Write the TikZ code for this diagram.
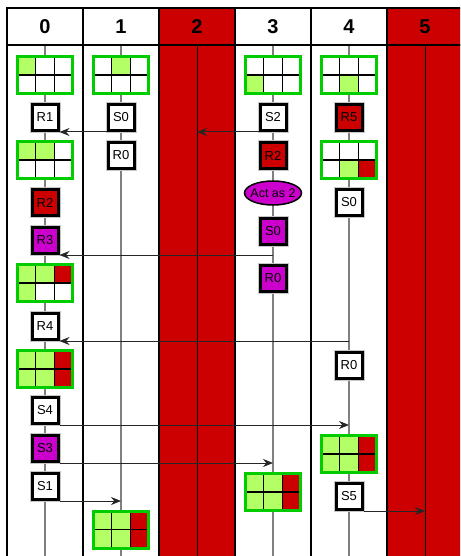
\documentclass[tikz,border=0pt]{standalone}
\usepackage{fontspec}
\setmainfont{Liberation Sans}
\usetikzlibrary{arrows.meta,shapes.geometric}
\definecolor{lg}{HTML}{B3FF66}
\definecolor{rd}{HTML}{CC0000}
\definecolor{mg}{HTML}{CC00CC}
\definecolor{gb}{HTML}{00CC00}
\definecolor{ll}{HTML}{808080}
\tikzset{
  colrect/.style={draw=black, line width=2.5pt},
  hdr/.style={font=\fontsize{20}{20}\selectfont\bfseries, inner sep=0pt},
  msgbox/.style={draw=black, line width=3pt, minimum size=26pt, inner sep=0pt,
    font=\fontsize{13}{13}\selectfont, preaction={draw=black!22, line width=5pt}},
  gridbox/.style={draw=gb, line width=3pt, fill=white, minimum width=55pt,
    minimum height=37pt, inner sep=0pt},
  life/.style={draw=ll, line width=1.1pt},
  redlife/.style={draw=black, line width=1pt},
  msg/.style={draw=black!85, line width=1pt, -{Stealth[length=10pt,width=8pt]}},
}
\newcommand{\cellgrid}[8]{%
  \node[gridbox, path picture={
    \begin{scope}[shift={(path picture bounding box.center)}]
      \fill[#3] (-30,-20) rectangle (-9.17,0);
      \fill[#4] (-9.17,-20) rectangle (9.17,0);
      \fill[#5] (9.17,-20) rectangle (30,0);
      \fill[#6] (-30,0) rectangle (-9.17,20);
      \fill[#7] (-9.17,0) rectangle (9.17,20);
      \fill[#8] (9.17,0) rectangle (30,20);
      \draw[black, line width=1.3pt] (-9.17,-20) -- (-9.17,20) (9.17,-20) -- (9.17,20) (-30,0) -- (30,0);
    \end{scope}}] (#1) at (#2) {};}
\begin{document}
\begin{tikzpicture}[x=1pt, y=-1pt]
\useasboundingbox (0,0) rectangle (460,556);
\clip (0,0) rectangle (460,556);
\fill[white] (0,0) rectangle (460,556);
% columns
\draw[colrect, fill=white] (7,8) rectangle (83,45);
\draw[colrect, fill=white] (83,8) rectangle (159,45);
\draw[colrect, fill=rd] (159,8) rectangle (235,45);
\draw[colrect, fill=white] (235,8) rectangle (311,45);
\draw[colrect, fill=white] (311,8) rectangle (387,45);
\draw[colrect, fill=rd] (387,8) rectangle (463,45);
\draw[colrect, fill=white] (7,45) rectangle (83,570);
\draw[colrect, fill=white] (83,45) rectangle (159,570);
\draw[colrect, fill=rd] (159,45) rectangle (235,570);
\draw[colrect, fill=white] (235,45) rectangle (311,570);
\draw[colrect, fill=white] (311,45) rectangle (387,570);
\draw[colrect, fill=rd] (387,45) rectangle (463,570);
\node[hdr] (h0) at (45,26.5) {0};
\node[hdr] (h1) at (121,26.5) {1};
\node[hdr] (h2) at (197,26.5) {2};
\node[hdr] (h3) at (273,26.5) {3};
\node[hdr] (h4) at (349,26.5) {4};
\node[hdr] (h5) at (425,26.5) {5};
% lifelines
\coordinate (l0) at (45,46); \coordinate (b0) at (45,570);
\coordinate (l1) at (121,46); \coordinate (b1) at (121,570);
\coordinate (l2) at (197,46); \coordinate (b2) at (197,570);
\coordinate (l3) at (273,46); \coordinate (b3) at (273,570);
\coordinate (l4) at (349,46); \coordinate (b4) at (349,570);
\coordinate (l5) at (425,46); \coordinate (b5) at (425,570);
\draw[life] (l0) -- (b0);
\draw[life] (l1) -- (b1);
\draw[redlife] (l2) -- (b2);
\draw[life] (l3) -- (b3);
\draw[life] (l4) -- (b4);
\draw[redlife] (l5) -- (b5);
% row 1 grids
\cellgrid{g0a}{45,75}{lg}{white}{white}{white}{white}{white}
\cellgrid{g1a}{121,75}{white}{lg}{white}{white}{white}{white}
\cellgrid{g3a}{273,75}{white}{white}{white}{lg}{white}{white}
\cellgrid{g4a}{349,75}{white}{white}{white}{white}{lg}{white}
% column 0
\node[msgbox, fill=white] (r1) at (45,117.5) {R1};
\cellgrid{g0b}{45,160}{lg}{lg}{white}{white}{white}{white}
\node[msgbox, fill=rd] (r2a) at (45,202.5) {R2};
\node[msgbox, fill=mg] (r3) at (45,240.5) {R3};
\cellgrid{g0c}{45,283}{lg}{lg}{rd}{lg}{white}{white}
\node[msgbox, fill=white] (r4) at (45,326.5) {R4};
\cellgrid{g0d}{45,369}{lg}{lg}{rd}{lg}{lg}{rd}
\node[msgbox, fill=white] (s4) at (45,410.5) {S4};
\node[msgbox, fill=mg] (s3) at (45,448.5) {S3};
\node[msgbox, fill=white] (s1) at (45,486.5) {S1};
% column 1
\node[msgbox, fill=white] (s0a) at (121,117.5) {S0};
\node[msgbox, fill=white] (r0a) at (121,155.5) {R0};
\cellgrid{g1b}{121,529.5}{lg}{lg}{rd}{lg}{lg}{rd}
% column 3
\node[msgbox, fill=white] (s2) at (273,117.5) {S2};
\node[msgbox, fill=rd] (r2b) at (273,155.5) {R2};
\node[ellipse, draw=black, line width=1.5pt, fill=mg, minimum width=57pt,
  minimum height=24pt, inner xsep=-4pt, inner ysep=0pt,
  font=\fontsize{12.5}{12.5}\selectfont] (act) at (273,193) {Act as 2};
\node[msgbox, fill=mg] (s0b) at (273,231.5) {S0};
\node[msgbox, fill=mg] (r0b) at (273,278.5) {R0};
\cellgrid{g3b}{273,492}{lg}{lg}{rd}{lg}{lg}{rd}
% column 4
\node[msgbox, fill=rd] (r5) at (349,117.5) {R5};
\cellgrid{g4b}{349,160}{white}{white}{white}{white}{lg}{rd}
\node[msgbox, fill=white] (s0c) at (349,202.5) {S0};
\node[msgbox, fill=white] (r0c) at (349,365) {R0};
\cellgrid{g4c}{349,454}{lg}{lg}{rd}{lg}{lg}{rd}
\node[msgbox, fill=white] (s5) at (349,496.5) {S5};
% messages
\draw[msg] (s0a.south west) -- (r1.south east);
\draw[msg] (s2.south west) -- (l2 |- s2.south west);
\draw[msg] (l3 |- r3.south east) -- (r3.south east);
\draw[msg] (l4 |- r4.south east) -- (r4.south east);
\draw[msg] (s4.south east) -- (l4 |- s4.south east);
\draw[msg] (s3.south east) -- (l3 |- s3.south east);
\draw[msg] (s1.south east) -- (l1 |- s1.south east);
\draw[msg] (s5.south east) -- (l5 |- s5.south east);
\end{tikzpicture}
\end{document}
